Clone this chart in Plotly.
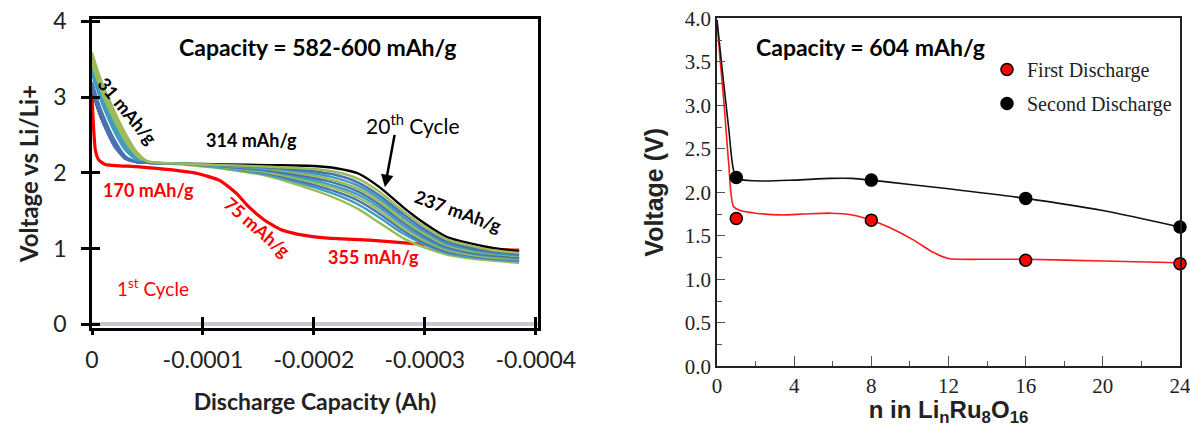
import plotly.graph_objects as go

# ---------------- Left panel data (Discharge capacity in Ah, voltage vs Li/Li+) ----------------
cap_grid = [0, -0.000005, -0.00001, -0.00002, -0.00003, -0.00004, -0.00005, -0.00008,
            -0.00012, -0.00016, -0.0002, -0.00022, -0.00024, -0.00026, -0.00028,
            -0.0003, -0.00032, -0.00034, -0.00036, -0.000385]

cycle_20 = [3.10, 2.85, 2.66, 2.38, 2.20, 2.14, 2.13, 2.12, 2.11, 2.10, 2.09, 2.06, 1.99, 1.80, 1.55, 1.33, 1.15, 1.07, 1.01, 0.96]
cycle_a = [3.59, 3.35, 3.15, 2.82, 2.52, 2.28, 2.15, 2.12, 2.10, 2.08, 2.05, 2.01, 1.92, 1.74, 1.50, 1.29, 1.12, 1.04, 0.98, 0.94]
cycle_b = [3.15, 2.90, 2.70, 2.38, 2.19, 2.14, 2.13, 2.12, 2.10, 2.07, 2.02, 1.97, 1.87, 1.69, 1.46, 1.25, 1.09, 1.01, 0.96, 0.92]
cycle_c = [3.30, 3.08, 2.88, 2.55, 2.30, 2.17, 2.13, 2.12, 2.09, 2.06, 1.99, 1.93, 1.83, 1.65, 1.42, 1.22, 1.06, 0.99, 0.94, 0.91]
cycle_d = [3.45, 3.22, 3.02, 2.70, 2.42, 2.23, 2.14, 2.12, 2.09, 2.05, 1.96, 1.89, 1.79, 1.61, 1.38, 1.19, 1.04, 0.97, 0.93, 0.90]
cycle_e = [3.20, 2.96, 2.76, 2.44, 2.22, 2.15, 2.13, 2.12, 2.08, 2.03, 1.93, 1.86, 1.75, 1.57, 1.35, 1.16, 1.02, 0.95, 0.91, 0.88]
cycle_f = [3.35, 3.12, 2.92, 2.60, 2.34, 2.19, 2.14, 2.12, 2.08, 2.02, 1.90, 1.82, 1.71, 1.53, 1.31, 1.13, 1.00, 0.94, 0.90, 0.87]
cycle_g = [3.50, 3.28, 3.08, 2.75, 2.46, 2.25, 2.15, 2.12, 2.07, 2.00, 1.87, 1.79, 1.67, 1.49, 1.27, 1.10, 0.98, 0.92, 0.88, 0.86]
cycle_h = [3.10, 2.86, 2.66, 2.35, 2.18, 2.14, 2.13, 2.12, 2.07, 1.99, 1.84, 1.75, 1.63, 1.45, 1.24, 1.07, 0.96, 0.91, 0.87, 0.85]
cycle_i = [3.40, 3.18, 2.98, 2.66, 2.38, 2.21, 2.14, 2.12, 2.06, 1.97, 1.81, 1.71, 1.58, 1.40, 1.20, 1.05, 0.94, 0.89, 0.86, 0.83]
cycle_j = [3.55, 3.32, 3.12, 2.79, 2.49, 2.27, 2.15, 2.11, 2.05, 1.95, 1.77, 1.66, 1.52, 1.33, 1.14, 1.01, 0.92, 0.87, 0.84, 0.81]

first_cycle_cap = [0, -0.000001, -0.000003, -0.000006, -0.000012, -0.00004, -0.00007, -0.000095,
                   -0.000115, -0.00013, -0.00014, -0.000155, -0.00017, -0.000185, -0.00021,
                   -0.00025, -0.000285, -0.00032, -0.00036, -0.000385]
first_cycle_v = [3.05, 2.70, 2.30, 2.17, 2.11, 2.08, 2.04, 1.99, 1.90, 1.73, 1.57, 1.38, 1.25,
                 1.19, 1.14, 1.11, 1.07, 1.03, 0.99, 0.98]

left_xticks = [0, -0.0001, -0.0002, -0.0003, -0.0004]
left_xticktext = ["0", "-0.0001", "-0.0002", "-0.0003", "-0.0004"]
left_yticks = [0, 1, 2, 3, 4]

# ---------------- Right panel data (n in LinRu8O16) ----------------
n_points = [1, 8, 16, 24]
first_discharge = [1.70, 1.68, 1.22, 1.18]
second_discharge = [2.17, 2.14, 1.93, 1.60]

n_first_curve = [0, 0.15, 0.35, 0.6, 0.85, 1.2, 2.0, 3.3, 4.5, 5.9, 7.0, 8.0, 9.0, 10.2, 11.2,
                 12.0, 14.0, 16.0, 20.0, 24.0]
v_first_curve = [3.98, 3.55, 3.06, 2.35, 1.84, 1.79, 1.76, 1.74, 1.75, 1.76, 1.74, 1.68, 1.59,
                 1.45, 1.31, 1.24, 1.23, 1.23, 1.21, 1.19]
n_second_curve = [0, 0.3, 0.6, 0.9, 1.2, 2.4, 4.0, 5.9, 7.0, 8.0, 10.0, 12.0, 16.0, 20.0, 24.0]
v_second_curve = [3.98, 3.35, 2.75, 2.22, 2.15, 2.13, 2.14, 2.16, 2.16, 2.14, 2.09, 2.04, 1.93,
                  1.79, 1.60]

GREEN = "#9bbb59"
BLUE = "#4a72b0"
TEAL = "#3d9cc2"
W, H = 1190, 427

fig = go.Figure()

# First cycle (red) underneath
fig.add_trace(go.Scatter(x=first_cycle_cap, y=first_cycle_v, mode="lines",
                         line=dict(color="#ff0000", width=3.2, shape="spline", smoothing=0.5),
                         showlegend=False, xaxis="x", yaxis="y"))

# 20th cycle (black) drawn first so the bundle covers its early part
bundle = [(cycle_20, "#000000"), (cycle_j, GREEN), (cycle_i, TEAL), (cycle_h, BLUE), (cycle_g, GREEN),
          (cycle_f, TEAL), (cycle_e, BLUE), (cycle_d, GREEN), (cycle_c, TEAL), (cycle_b, BLUE),
          (cycle_a, GREEN)]
for ys, col in bundle:
    fig.add_trace(go.Scatter(x=cap_grid, y=ys, mode="lines",
                             line=dict(color=col, width=2.4, shape="spline", smoothing=0.6),
                             showlegend=False, xaxis="x", yaxis="y"))

# dummy trace for overlay tick axes
fig.add_trace(go.Scatter(x=[], y=[], xaxis="x3", yaxis="y3", showlegend=False))

# Right panel curves
fig.add_trace(go.Scatter(x=n_first_curve, y=v_first_curve, mode="lines",
                         line=dict(color="#ff1a1a", width=1.6, shape="spline", smoothing=0.7),
                         showlegend=False, xaxis="x2", yaxis="y2"))
fig.add_trace(go.Scatter(x=n_second_curve, y=v_second_curve, mode="lines",
                         line=dict(color="#111111", width=1.6, shape="spline", smoothing=0.7),
                         showlegend=False, xaxis="x2", yaxis="y2"))
fig.add_trace(go.Scatter(x=n_points, y=first_discharge, mode="markers", name="First Discharge",
                         marker=dict(color="#ff0000", size=12, line=dict(color="#000000", width=1.5)),
                         cliponaxis=False, legendgroup="a", xaxis="x2", yaxis="y2"))
fig.add_trace(go.Scatter(x=n_points, y=second_discharge, mode="markers", name="Second Discharge",
                         marker=dict(color="#000000", size=12, line=dict(color="#000000", width=1.5)),
                         cliponaxis=False, legendgroup="b", xaxis="x2", yaxis="y2"))

calibri = "Lato, Open Sans, sans-serif"
times = "Liberation Serif, Times New Roman, serif"
arial = "Liberation Sans, Arial, sans-serif"

xdom_l = [92 / W, 538 / W]
ydom_l = [1 - 328 / H, 1 - 19 / H]
xdom_r = [717 / W, 1180 / W]
ydom_r = [1 - 366.3 / H, 1 - 18.3 / H]

fig.update_layout(
    width=W, height=H,
    margin=dict(l=0, r=0, t=0, b=0),
    paper_bgcolor="white", plot_bgcolor="white",
    xaxis=dict(domain=xdom_l, anchor="y", range=[0, -0.000402], automargin=False,
               tickvals=left_xticks, ticktext=left_xticktext,
               ticks="outside", ticklen=4, tickwidth=2.5, tickcolor="black",
               showline=True, linecolor="black", linewidth=2.5, mirror=True,
               showgrid=False, zeroline=False, ticklabelstandoff=6,
               tickfont=dict(family=calibri, size=23, color="#222"),
               title=dict(text="<b>Discharge Capacity (Ah)</b>", standoff=22,
                          font=dict(family=calibri, size=23, color="#222"))),
    yaxis=dict(domain=ydom_l, anchor="x", range=[-0.05, 4.03], automargin=False,
               tickvals=left_yticks,
               ticks="outside", ticklen=8, tickwidth=2.5, tickcolor="black",
               showline=True, linecolor="black", linewidth=2.5, mirror=True,
               showgrid=False, zeroline=True, zerolinecolor="#c3c9d3", zerolinewidth=4,
               ticklabelstandoff=10,
               tickfont=dict(family=calibri, size=23, color="#222"),
               title=dict(text="<b>Voltage vs Li/Li+</b>", standoff=8,
                          font=dict(family=calibri, size=24, color="#222"))),
    xaxis3=dict(domain=xdom_l, anchor="y3", overlaying="x", matches="x", automargin=False,
                tickvals=left_xticks, ticks="inside", ticklen=11, tickwidth=2.5, tickcolor="black",
                showticklabels=False, showline=False, showgrid=False, zeroline=False),
    yaxis3=dict(domain=ydom_l, anchor="x3", overlaying="y", matches="y", automargin=False,
                tickvals=left_yticks, ticks="inside", ticklen=8, tickwidth=2.5, tickcolor="black",
                showticklabels=False, showline=False, showgrid=False, zeroline=False),
    xaxis2=dict(domain=xdom_r, anchor="y2", range=[0, 24], dtick=4, tick0=0, automargin=False,
                ticks="inside", ticklen=10, tickwidth=1, tickcolor="#555",
                minor=dict(dtick=2, ticks="inside", ticklen=5, tickcolor="#555"),
                showline=True, linecolor="#222", linewidth=1.8, mirror=True,
                showgrid=False, zeroline=False, ticklabeloverflow="allow",
                tickfont=dict(family=times, size=21, color="#222"),
                title=dict(text="<b>n in Li<sub>n</sub>Ru<sub>8</sub>O<sub>16</sub></b>", standoff=4,
                           font=dict(family=arial, size=24, color="#222"))),
    yaxis2=dict(domain=ydom_r, anchor="x2", range=[0, 4], dtick=0.5, tick0=0, automargin=False,
                tickformat=".1f",
                ticks="inside", ticklen=8, tickwidth=1, tickcolor="#555",
                minor=dict(dtick=0.25, ticks="inside", ticklen=5, tickcolor="#555"),
                showline=True, linecolor="#222", linewidth=1.8, mirror=True,
                showgrid=False, zeroline=False,
                tickfont=dict(family=times, size=21, color="#222"),
                title=dict(text="<b>Voltage (V)</b>", standoff=14,
                           font=dict(family=arial, size=25, color="#222"))),
    legend=dict(x=987 / W, y=1 - 50 / H, xanchor="left", yanchor="top",
                bgcolor="rgba(0,0,0,0)", tracegroupgap=5,
                font=dict(family=times, size=20, color="#222"),
                itemwidth=30),
    showlegend=True,
)

ann = []
def add(text, x, y, size=18, color="black", bold=True, angle=0, xref="x", yref="y"):
    t = f"<b>{text}</b>" if bold else text
    ann.append(dict(text=t, x=x, y=y, xref=xref, yref=yref, showarrow=False,
                    textangle=angle, font=dict(family=calibri, size=size, color=color)))

add("Capacity = 582-600 mAh/g", -0.0002036, 3.66, size=23)
add("31 mAh/g", -0.000032, 2.81, angle=50)
add("314 mAh/g", -0.000144, 2.43)
add("20<sup>th</sup> Cycle", -0.000289, 2.65, size=21, bold=False)
add("237 mAh/g", -0.00033, 1.50, angle=20)
add("170 mAh/g", -0.000051, 1.77, color="#ff0000")
add("75 mAh/g", -0.000149, 1.28, color="#ff0000", angle=41)
add("355 mAh/g", -0.000254, 0.89, color="#ff0000")
add("1<sup>st</sup> Cycle", -0.000055, 0.49, size=19, color="#ff0000", bold=False)
add("Capacity = 604 mAh/g", 7.95, 3.67, size=23, xref="x2", yref="y2")

ann.append(dict(x=-0.000264, y=1.81, xref="x", yref="y", ax=-0.000273, ay=2.52,
                axref="x", ayref="y", text="", showarrow=True, arrowhead=2,
                arrowsize=1, arrowwidth=2.5, arrowcolor="black"))

fig.update_layout(annotations=ann)
fig.write_html("out.html", config={"displayModeBar": False},
               post_script="document.body.style.margin='0';document.body.style.overflow='hidden';")
